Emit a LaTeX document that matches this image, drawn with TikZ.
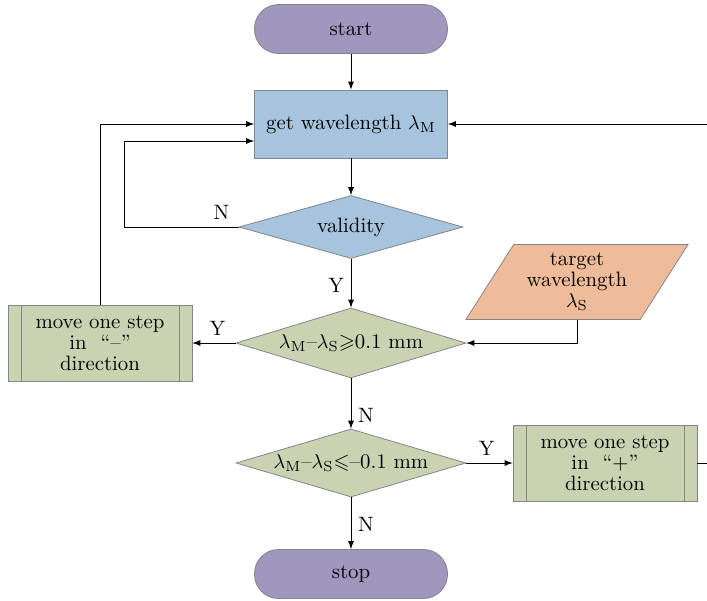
\documentclass[tikz,border=0pt]{standalone}
\usepackage{amsmath,amssymb}
\usepackage{fontspec}
\usepackage{tikz}
\usetikzlibrary{shapes.geometric, arrows.meta, positioning}
\definecolor{termpurple}{HTML}{A096BE}
\definecolor{procblue}{HTML}{A6C4DD}
\definecolor{checkgreen}{HTML}{C9D3B2}
\definecolor{inputorange}{HTML}{EEBB9B}
\definecolor{framegray}{HTML}{858585}
\tikzstyle{terminal} = [rectangle, rounded corners=12pt,
minimum width=96.5pt,
minimum height=24.5pt,
text centered,
draw=framegray, fill=termpurple]
\tikzstyle{process} = [rectangle,
minimum width=96.5pt,
minimum height=34pt,
text centered,
draw=framegray, fill=procblue]
\tikzstyle{decision} = [diamond, aspect=3.3, inner sep=0pt,
minimum width=115pt,
minimum height=35pt,
text centered,
draw=framegray]
\tikzstyle{dataio} = [trapezium, trapezium left angle=57, trapezium right angle=123,
trapezium stretches=true,
minimum width=111.5pt,
minimum height=37.5pt,
inner sep=0pt,
align=center,
draw=framegray, fill=inputorange]
\tikzstyle{subproc} = [rectangle,
minimum width=92pt,
minimum height=38pt,
align=center,
draw=framegray, fill=checkgreen,
path picture={\draw[framegray]
([xshift=6.5pt]path picture bounding box.north west) -- ([xshift=6.5pt]path picture bounding box.south west)
([xshift=-6.5pt]path picture bounding box.north east) -- ([xshift=-6.5pt]path picture bounding box.south east);}]

\begin{document}
\begin{tikzpicture}[node distance=50pt, font=\fontsize{10.4}{10.5}\selectfont]
		\useasboundingbox (-175.5pt,14.5pt) rectangle (178pt,-285.5pt);
		\node (start) [terminal] {start};
		\node (getlam) [process, below of=start, yshift=2.5pt] {get wavelength $\lambda_{\mathrm{M}}$};
		\node (valid) [decision, below of=getlam, yshift=-1.5pt, fill=procblue, minimum width=112pt, minimum height=31.5pt] {validity};
		\node (geq) [decision, below of=valid, yshift=-8pt, fill=checkgreen] {$\lambda_{\mathrm{M}}$--$\lambda_{\mathrm{S}}{\geqslant}$0.1 mm};
		\node (leq) [decision, below of=geq, yshift=-10pt, fill=checkgreen, minimum height=34pt] {$\lambda_{\mathrm{M}}$--$\lambda_{\mathrm{S}}{\leqslant}$--0.1 mm};
		\node (stop) [terminal, below of=leq, yshift=-5.5pt] {stop};
		\node (minus) [subproc, left of=geq, xshift=-75.5pt] {move one step\\in\ \ ``--''\\direction};
		\node (target) [dataio, right of=geq, xshift=63pt, yshift=30.5pt] {target\\wavelength\\$\lambda_{\mathrm{S}}$};
		\node (plus) [subproc, right of=leq, xshift=77pt] {move one step\\in\ \ ``+''\\direction};
		
		\draw [-latex](start) -- (getlam);
		\draw [-latex](getlam) -- (valid);
		\draw [-latex](valid.west) -- node [pos=0.15, above] {N} ++(-57pt,0) |- ([yshift=-8.5pt]getlam.west);
		\draw [-latex](valid) -- node [pos=0.55, left] {Y} (geq);
		\draw [-latex](geq) -- node [pos=0.42, above] {Y} (minus);
		\draw [-latex](minus) |- (getlam);
		\draw [-latex](target) |- (geq);
		\draw [-latex](geq) -- node [pos=0.73, right] {N} (leq);
		\draw [-latex](leq) -- node [pos=0.44, above] {Y} (plus);
		\draw [-latex](leq) -- node [pos=0.53, right] {N} (stop);
		\draw [-latex](plus.east) -- ++(15pt,0) |- (getlam.east);
	\end{tikzpicture}
\end{document}
